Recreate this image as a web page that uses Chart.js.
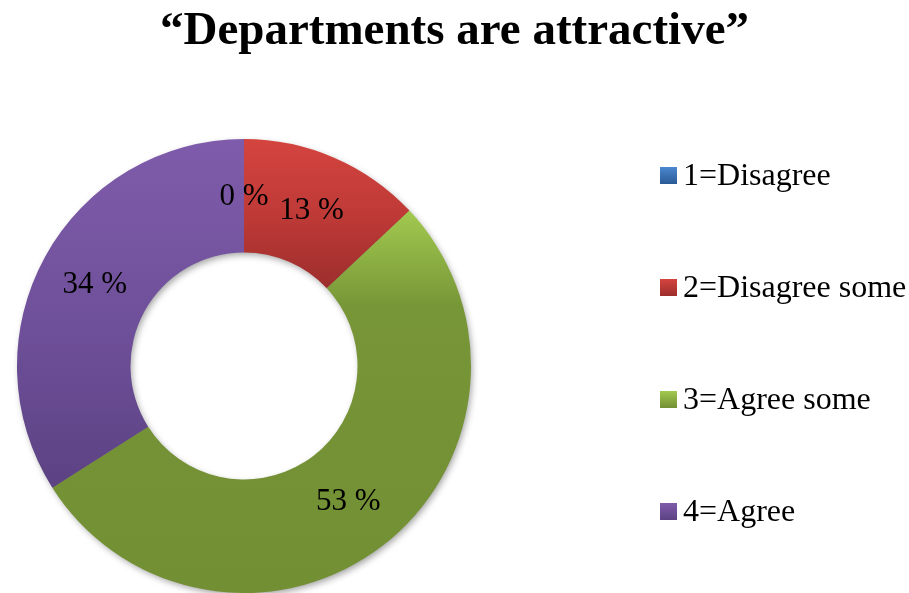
<!DOCTYPE html>
<html>
<head>
<meta charset="utf-8">
<script src="https://cdn.jsdelivr.net/npm/chart.js@4/dist/chart.umd.min.js"></script>
<style>
  html, body { margin: 0; padding: 0; background: #fff; }
  #wrap { width: 909px; height: 593px; }
</style>
</head>
<body>
<div id="wrap"><canvas id="c"></canvas></div>
<script>
// Survey answers and their share of responses (percent)
const categories = ['1=Disagree', '2=Disagree some', '3=Agree some', '4=Agree'];
const shares = [0, 13, 53, 34];
const titleText = '“Departments are attractive”';

// Per-slice gradient colours: light top, base, darker bottom
const lightColors = ['#4a87cf', '#d4443f', '#a2c94f', '#7f5cab'];
const baseColors  = ['#3d72b4', '#bf3a37', '#779637', '#6e4f99'];
const darkColors  = ['#2b5b96', '#9c2e2c', '#728f34', '#5c4283'];
const baseStops   = [0.5, 0.5, 0.25, 0.55];

const SERIF = '"Liberation Serif", "Times New Roman", serif';
const CUTOUT = 0.5;
const LEGEND_WIDTH = 421;

function ringGeometry(chart) {
  const a = chart.chartArea;
  const cx = (a.left + a.right) / 2;
  const cy = (a.top + a.bottom) / 2;
  const outer = Math.min(a.right - a.left, a.bottom - a.top) / 2;
  return { cx, cy, outer, inner: outer * CUTOUT };
}

// Vertical gradient spanning the bounding box of one slice
function sliceFill(context) {
  const chart = context.chart;
  const i = context.dataIndex;
  if (!chart.chartArea) return baseColors[i];
  const g = ringGeometry(chart);
  const total = shares.reduce((s, v) => s + v, 0);
  let start = -Math.PI / 2;
  for (let k = 0; k < i; k++) start += shares[k] / total * 2 * Math.PI;
  const end = start + shares[i] / total * 2 * Math.PI;
  let minY = Infinity, maxY = -Infinity;
  const steps = 90;
  for (let k = 0; k <= steps; k++) {
    const t = start + (end - start) * k / steps;
    for (const r of [g.inner, g.outer]) {
      const y = g.cy + r * Math.sin(t);
      minY = Math.min(minY, y);
      maxY = Math.max(maxY, y);
    }
  }
  if (maxY - minY < 1) maxY = minY + 1;
  const grad = chart.ctx.createLinearGradient(0, minY, 0, maxY);
  grad.addColorStop(0, lightColors[i]);
  grad.addColorStop(baseStops[i], baseColors[i]);
  grad.addColorStop(1, darkColors[i]);
  return grad;
}

// Soft drop shadow under the whole ring
const ringShadow = {
  id: 'ringShadow',
  beforeDatasetsDraw(chart) {
    const g = ringGeometry(chart);
    const ctx = chart.ctx;
    ctx.save();
    ctx.shadowColor = 'rgba(0,0,0,0.38)';
    ctx.shadowBlur = 7;
    ctx.shadowOffsetX = 2;
    ctx.shadowOffsetY = 3;
    ctx.fillStyle = '#777';
    ctx.beginPath();
    ctx.arc(g.cx, g.cy, g.outer - 1, 0, Math.PI * 2);
    ctx.arc(g.cx, g.cy, g.inner + 1, 0, Math.PI * 2, true);
    ctx.fill('evenodd');
    ctx.restore();
  }
};

// Percent labels placed at the middle of each slice
const sliceLabels = {
  id: 'sliceLabels',
  afterDatasetsDraw(chart) {
    const ctx = chart.ctx;
    const meta = chart.getDatasetMeta(0);
    ctx.save();
    ctx.font = '31px ' + SERIF;
    ctx.fillStyle = '#000';
    ctx.textAlign = 'center';
    ctx.textBaseline = 'middle';
    meta.data.forEach((arc, i) => {
      const p = arc.tooltipPosition();
      ctx.fillText(shares[i] + ' %', p.x, p.y + 1);
    });
    ctx.restore();
  }
};

// Right-hand legend as a layout box with wide row spacing
const sideLegend = {
  id: 'sideLegend',
  beforeInit(chart) {
    const box = {
      position: 'right',
      weight: 1000,
      fullSize: false,
      options: {},
      left: 0, top: 0, right: 0, bottom: 0, width: 0, height: 0,
      isHorizontal() { return false; },
      update(maxWidth, maxHeight) {
        this.width = LEGEND_WIDTH;
        this.height = maxHeight;
        return { width: this.width, height: this.height };
      },
      draw() {
        const ctx = chart.ctx;
        const boxSize = 17;
        const x0 = this.left + 172;
        const firstRow = this.top + 36.5;
        const rowGap = 112;
        ctx.save();
        ctx.font = '32px ' + SERIF;
        ctx.textAlign = 'left';
        ctx.textBaseline = 'middle';
        categories.forEach((label, i) => {
          const y = firstRow + i * rowGap;
          const grad = ctx.createLinearGradient(0, y - boxSize / 2, 0, y + boxSize / 2);
          grad.addColorStop(0, lightColors[i]);
          grad.addColorStop(1, darkColors[i]);
          ctx.fillStyle = grad;
          ctx.fillRect(x0, y - boxSize / 2, boxSize, boxSize);
          ctx.fillStyle = '#000';
          ctx.fillText(label, x0 + boxSize + 6, y + 1);
        });
        ctx.restore();
      }
    };
    Chart.layouts.addBox(chart, box);
  }
};

new Chart(document.getElementById('c'), {
  type: 'doughnut',
  data: {
    labels: categories,
    datasets: [{
      data: shares,
      backgroundColor: sliceFill,
      borderWidth: 0,
      hoverOffset: 0
    }]
  },
  options: {
    responsive: true,
    maintainAspectRatio: false,
    animation: false,
    cutout: (CUTOUT * 100) + '%',
    layout: { padding: 0 },
    plugins: {
      legend: { display: false },
      tooltip: { enabled: false },
      title: {
        display: true,
        text: titleText,
        color: '#000',
        font: { family: SERIF, size: 47, weight: 'bold', lineHeight: 1.2 },
        padding: { top: 4, bottom: 78.6 }
      }
    }
  },
  plugins: [ringShadow, sliceLabels, sideLegend]
});
</script>
</body>
</html>
